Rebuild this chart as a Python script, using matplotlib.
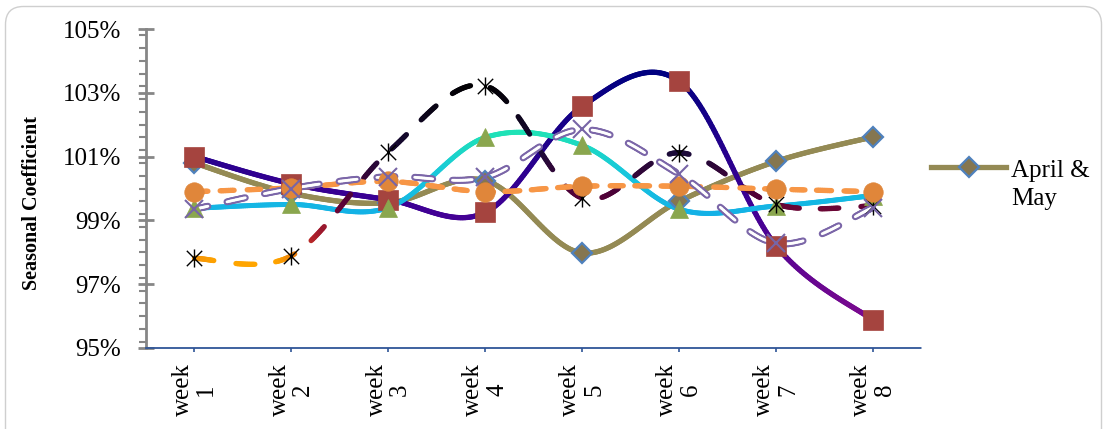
import numpy as np
import matplotlib
matplotlib.use("Agg")
import matplotlib.pyplot as plt
from matplotlib.collections import LineCollection
from matplotlib.colors import LinearSegmentedColormap, Normalize
from matplotlib.lines import Line2D
from matplotlib.patches import FancyBboxPatch
from matplotlib.path import Path
from matplotlib.ticker import MultipleLocator, FuncFormatter
from matplotlib.transforms import IdentityTransform
from matplotlib.legend_handler import HandlerLine2D

plt.rcParams['font.family'] = ['Liberation Serif', 'DejaVu Serif']

# ---------------- data ----------------
weeks = ['week\n1', 'week\n2', 'week\n3', 'week\n4', 'week\n5', 'week\n6', 'week\n7', 'week\n8']
april_may = [100.80, 99.85, 99.55, 100.25, 97.98, 99.60, 100.85, 101.62]
series_square = [101.00, 100.15, 99.65, 99.25, 102.58, 103.36, 98.20, 95.87]
series_triangle = [99.38, 99.50, 99.40, 101.60, 101.35, 99.35, 99.45, 99.78]
series_star = [97.81, 97.89, 101.15, 103.22, 99.70, 101.12, 99.50, 99.45]
series_circle = [99.90, 100.02, 100.22, 99.90, 100.07, 100.07, 99.98, 99.90]
series_x = [99.35, 100.00, 100.37, 100.35, 101.85, 100.45, 98.28, 99.40]
legend_label = 'April &\nMay'
y_label = 'Seasonal Coefficient'

# ---------------- helpers ----------------
def smooth(xs, ys, n=60):
    """Excel-like smoothed line (Catmull-Rom Bezier)."""
    p = np.column_stack([xs, ys]).astype(float)
    p_ext = np.vstack([p[0], p, p[-1]])
    out = []
    t = np.linspace(0, 1, n)[:, None]
    for i in range(len(p) - 1):
        p0, p1, p2, p3 = p_ext[i], p_ext[i + 1], p_ext[i + 2], p_ext[i + 3]
        c1 = p1 + (p2 - p0) / 6.0
        c2 = p2 - (p3 - p1) / 6.0
        b = ((1 - t) ** 3) * p1 + 3 * ((1 - t) ** 2) * t * c1 + 3 * (1 - t) * t ** 2 * c2 + t ** 3 * p2
        out.append(b if i == 0 else b[1:])
    b = np.vstack(out)
    return b[:, 0], b[:, 1]


def draw_line(ax, xs, ys, colorfunc, lw, dash=None, gap=None, zorder=2, offset=0.0):
    x, y = smooth(xs, ys)
    pts = np.column_stack([x, y])
    segs = np.stack([pts[:-1], pts[1:]], axis=1)
    pix = ax.transData.transform(pts)
    seglen = np.hypot(*np.diff(pix, axis=0).T)
    s = np.concatenate([[0], np.cumsum(seglen)])
    smid = 0.5 * (s[:-1] + s[1:])
    ymid = 0.5 * (y[:-1] + y[1:])
    cols = colorfunc(ymid)
    if dash is not None:
        keep = ((smid + offset) % (dash + gap)) < dash
    else:
        keep = np.ones(len(smid), bool)
    lc = LineCollection(segs[keep], colors=cols[keep], linewidths=lw,
                        capstyle='round', joinstyle='round', zorder=zorder)
    ax.add_collection(lc)
    return keep


def solid(c):
    rgba = matplotlib.colors.to_rgba(c)
    return lambda yy: np.tile(rgba, (len(yy), 1))


def gradient(stops, ymin, ymax):
    cmap = LinearSegmentedColormap.from_list('g', stops)
    norm = Normalize(ymin, ymax)
    return lambda yy: cmap(norm(yy))


class RaisedHandler(HandlerLine2D):
    """Put the legend sample level with the first line of a two-line label."""
    def __init__(self, raise_pt, **kw):
        super().__init__(**kw)
        self.raise_pt = raise_pt

    def create_artists(self, legend, orig_handle, xdescent, ydescent, width, height, fontsize, trans):
        return super().create_artists(legend, orig_handle, xdescent, ydescent - 2 * self.raise_pt,
                                      width, height, fontsize, trans)


# ---------------- figure ----------------
W, H = 1105, 429
fig = plt.figure(figsize=(W / 100, H / 100), dpi=100)
fig.patch.set_facecolor('white')

frame = FancyBboxPatch((5.5, -40), 1096, H - 6.5 + 40, boxstyle='round,pad=0,rounding_size=18',
                       transform=IdentityTransform(), facecolor='none', edgecolor='#CFCFCF',
                       linewidth=1.0, zorder=0)
fig.patches.append(frame)

ax = fig.add_axes([146 / W, 1 - 348 / H, 775.5 / W, 319 / H])
ax.set_facecolor('none')
ax.set_xlim(0.5, 8.5)
ax.set_ylim(95, 105)

xs = np.arange(1, len(weeks) + 1)

# lines
draw_line(ax, xs, april_may, solid('#948A54'), 3.8, zorder=2.0)
draw_line(ax, xs, series_square,
          gradient([(0.0, '#7E0A8E'), (0.45, '#3F0095'), (1.0, '#000080')], 95.8, 103.7), 3.8, zorder=2.1)
draw_line(ax, xs, series_triangle,
          gradient([(0.0, '#13B1E6'), (0.5, '#18C8DC'), (1.0, '#1FE3B5')], 99.2, 101.8), 3.6, zorder=2.2)
draw_line(ax, xs, series_star,
          gradient([(0.0, '#FFA500'), (0.13, '#B3222A'), (0.33, '#5A0038'), (0.6, '#1A0A38'), (1.0, '#000000')],
                   97.7, 103.4), 3.8, dash=20, gap=21, zorder=2.3, offset=0)
draw_line(ax, xs, series_circle, solid('#F79646'), 3.8, dash=14, gap=12, zorder=2.4)
draw_line(ax, xs, series_x, solid('#7B66A8'), 5.0, dash=19, gap=19, zorder=2.5, offset=5)
draw_line(ax, xs, series_x, solid('#FFFFFF'), 2.0, dash=19, gap=19, zorder=2.51, offset=5)

# markers
star_path = Path([(0, -1), (0, 1), (-0.85, -0.85), (0.85, 0.85), (-0.85, 0.85), (0.85, -0.85)],
                 [Path.MOVETO, Path.LINETO, Path.MOVETO, Path.LINETO, Path.MOVETO, Path.LINETO])
ax.plot(xs, april_may, ls='none', marker='D', ms=10, mfc='#857650', mec='#4F81BD', mew=1.6, zorder=3.0)
ax.plot(xs, series_square, ls='none', marker='s', ms=14, mfc='#A5443F', mec='#A5443F', mew=0.5, zorder=3.1)
ax.plot(xs, series_triangle, ls='none', marker='^', ms=13, mfc='#8AA64E', mec='#8AA64E', mew=0.5, zorder=3.2)
ax.plot(xs, series_star, ls='none', marker=star_path, ms=13, mfc='none', mec='#000000', mew=1.0, zorder=3.3)
ax.plot(xs, series_circle, ls='none', marker='o', ms=14, mfc='#E0863A', mec='#E0863A', mew=0.5, zorder=3.4)
ax.plot(xs, series_x, ls='none', marker='x', ms=13, mec='#7765A6', mew=1.5, zorder=3.5)

# axes styling
for s in ['top', 'right']:
    ax.spines[s].set_visible(False)
ax.spines['left'].set_color('#868686')
ax.spines['left'].set_linewidth(2.0)
ax.spines['bottom'].set_color('#2F5597')
ax.spines['bottom'].set_linestyle((0, (1, 1)))
ax.spines['bottom'].set_linewidth(1.3)

ax.set_yticks(np.arange(95, 105.1, 2))
ax.yaxis.set_minor_locator(MultipleLocator(0.4))
ax.yaxis.set_major_formatter(FuncFormatter(lambda v, p: f'{v:.0f}%'))
ax.tick_params(axis='y', which='major', direction='inout', length=12, width=2, color='#868686',
               labelsize=18, pad=12)
ax.tick_params(axis='y', which='minor', direction='out', length=5, width=1.5, color='#868686')

ax.set_xticks(xs)
ax.set_xticklabels(weeks, rotation=90, fontsize=18, multialignment='center', linespacing=1.1)
ax.tick_params(axis='x', which='major', direction='out', length=3, width=1.2, color='#2F5597', pad=8)
ax.tick_params(axis='x', which='minor', bottom=False)

ax.set_ylabel(y_label, fontsize=14.5, fontweight='bold')
ax.yaxis.set_label_coords(-0.134, 0.455)

# legend
proxy = Line2D([], [], color='#948A54', lw=3.8, marker='D', ms=10, mfc='#857650', mec='#4F81BD', mew=1.6)
leg = fig.legend(handles=[proxy], labels=[legend_label], loc='upper left',
                 bbox_to_anchor=(931 / W, 1 - 160 / H), frameon=False, fontsize=18,
                 handlelength=3.0, handletextpad=0.2, borderpad=0, borderaxespad=0, labelspacing=0,
                 handler_map={proxy: RaisedHandler(13.0)})
for t in leg.get_texts():
    t.set_linespacing(1.38)

fig.savefig('out.png', dpi=100, facecolor='white')
